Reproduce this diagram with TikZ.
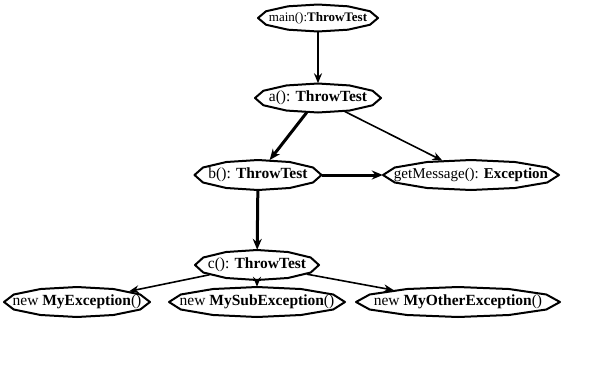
\documentclass[tikz,border=0pt]{standalone}
\usepackage{fontspec}
\setmainfont{Liberation Serif}
\usetikzlibrary{arrows.meta,shapes.geometric}
\tikzset{
  shp/.style={ellipse, inner sep=0pt, draw=none},
  txt/.style={inner sep=0pt, font=\fontsize{15.5}{17}\selectfont},
  gmtxt/.style={inner sep=0pt, font=\fontsize{15}{17}\selectfont},
  smalltxt/.style={inner sep=0pt, font=\fontsize{13}{15}\selectfont},
  shapeline/.style={line width=2pt, line join=round},
  thinarrow/.style={line width=1.6pt, -{Stealth[length=10pt,width=8pt]}},
  midarrow/.style={line width=2.2pt, -{Stealth[length=10pt,width=8pt]}},
  thickarrow/.style={line width=3pt, -{Stealth[length=11pt,width=9pt]}},
}
\newcommand\octnode[7]{%
  \node[shp, minimum width=#4*2pt, minimum height=#5*2pt] (#1) at (#2,#3) {};
  \node[#6] at (#1.center) {#7};
  \draw[shapeline] plot[samples=13, domain=0:360, variable=\t] ({#2+#4*cos(\t)},{#3+#5*sin(\t)}) -- cycle;
}
\begin{document}
\begin{tikzpicture}[x=1pt,y=-1pt]
\useasboundingbox (0,0) rectangle (615,370);
\octnode{main}{318}{18}{60}{13.5}{smalltxt}{main():\textbf{ThrowTest}}
\octnode{a}{318}{98}{63}{14.5}{txt}{a(): \textbf{ThrowTest}}
\octnode{b}{258}{175}{63.5}{15}{txt}{b(): \textbf{ThrowTest}}
\octnode{gm}{471}{175}{88}{15}{gmtxt}{getMessage(): \textbf{Exception}}
\octnode{c}{257}{265}{62}{15}{txt}{c(): \textbf{ThrowTest}}
\octnode{e1}{77}{302}{73}{15}{txt}{new \textbf{MyException}()}
\octnode{e2}{257}{302}{88}{15}{txt}{new \textbf{MySubException}()}
\octnode{e3}{458}{302}{102}{15}{txt}{new \textbf{MyOtherException}()}
\draw[midarrow] (main) -- (a);
\draw[thickarrow] (a) -- (b);
\draw[thinarrow] (a) -- (gm);
\draw[thickarrow] (b) -- (gm);
\draw[thickarrow] (b) -- (c);
\draw[thinarrow] (c) -- (e1);
\draw[thinarrow] (c) -- (e2);
\draw[thinarrow] (c) -- (e3);
\end{tikzpicture}
\end{document}
